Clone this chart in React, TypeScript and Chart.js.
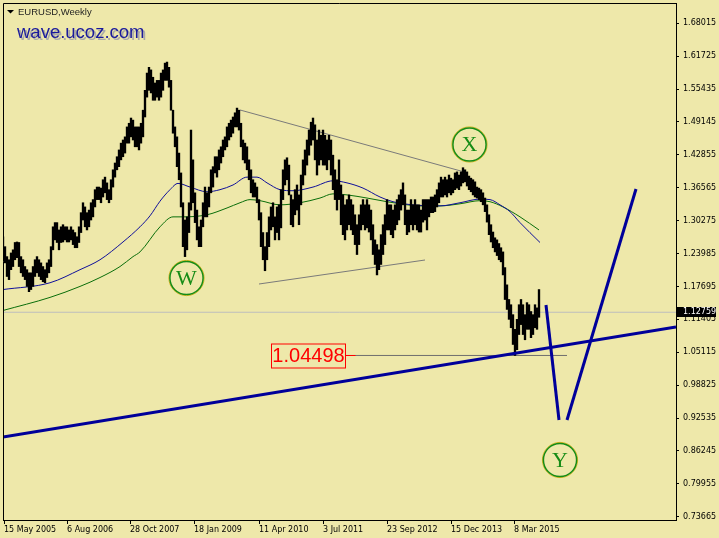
import React, { useEffect, useRef } from 'react';
import { Chart, registerables } from 'chart.js';

Chart.register(...registerables);

// Weekly EURUSD bars (every second bar). Bar index 0 = week of 15 May 2005.
const firstBarIndex = -1;
const barStep = 2;

const barHigh = [
  1.272, 1.253, 1.234, 1.228, 1.241, 1.247, 1.261, 1.262, 1.261, 1.234, 1.228, 1.215, 1.209, 1.203, 1.203, 1.215, 1.228, 1.234, 1.228, 1.222, 1.215, 1.209, 1.222, 1.228, 1.253,
  1.291, 1.299, 1.299, 1.285, 1.291, 1.295, 1.291, 1.291, 1.285, 1.291, 1.285, 1.280, 1.272, 1.291, 1.318, 1.337, 1.329, 1.318, 1.323, 1.337, 1.343, 1.362, 1.367, 1.367, 1.365,
  1.381, 1.386, 1.375, 1.362, 1.381, 1.400, 1.413, 1.425, 1.438, 1.451, 1.457, 1.463, 1.482, 1.489, 1.499, 1.495, 1.482, 1.482, 1.482, 1.489, 1.514, 1.552, 1.585, 1.596, 1.591,
  1.577, 1.566, 1.571, 1.571, 1.585, 1.591, 1.604, 1.606, 1.596, 1.571, 1.514, 1.482, 1.463, 1.432, 1.394, 1.337, 1.304, 1.310, 1.337, 1.476, 1.419, 1.356, 1.323, 1.291, 1.304,
  1.337, 1.367, 1.356, 1.367, 1.400, 1.406, 1.425, 1.425, 1.438, 1.444, 1.457, 1.463, 1.482, 1.489, 1.495, 1.501, 1.509, 1.518, 1.514, 1.489, 1.457, 1.451, 1.444, 1.419, 1.400,
  1.381, 1.375, 1.367, 1.343, 1.318, 1.280, 1.253, 1.280, 1.310, 1.329, 1.337, 1.310, 1.329, 1.333, 1.362, 1.400, 1.419, 1.423, 1.409, 1.352, 1.343, 1.362, 1.371, 1.352, 1.390,
  1.419, 1.438, 1.457, 1.476, 1.491, 1.499, 1.486, 1.457, 1.476, 1.466, 1.476, 1.466, 1.457, 1.466, 1.457, 1.428, 1.400, 1.381, 1.419, 1.371, 1.352, 1.333, 1.343, 1.352, 1.343,
  1.333, 1.314, 1.295, 1.314, 1.333, 1.343, 1.333, 1.343, 1.333, 1.323, 1.295, 1.266, 1.257, 1.247, 1.276, 1.295, 1.314, 1.343, 1.333, 1.333, 1.323, 1.333, 1.343, 1.352, 1.362,
  1.375, 1.352, 1.323, 1.323, 1.343, 1.333, 1.343, 1.333, 1.333, 1.323, 1.343, 1.343, 1.343, 1.343, 1.348, 1.348, 1.352, 1.362, 1.375, 1.386, 1.381, 1.386, 1.381, 1.390, 1.384,
  1.381, 1.394, 1.396, 1.390, 1.396, 1.404, 1.400, 1.396, 1.388, 1.384, 1.381, 1.377, 1.367, 1.365, 1.362, 1.356, 1.346, 1.333, 1.314, 1.295, 1.281, 1.270, 1.266, 1.259, 1.251,
  1.243, 1.213, 1.180, 1.152, 1.142, 1.123, 1.095, 1.114, 1.142, 1.152, 1.142, 1.123, 1.146, 1.142, 1.129, 1.123, 1.142, 1.136, 1.171,
];

const barLow = [
  1.253, 1.222, 1.196, 1.190, 1.209, 1.215, 1.228, 1.232, 1.215, 1.203, 1.196, 1.190, 1.177, 1.167, 1.171, 1.177, 1.196, 1.203, 1.196, 1.190, 1.186, 1.184, 1.194, 1.203, 1.215,
  1.247, 1.266, 1.261, 1.247, 1.261, 1.262, 1.266, 1.262, 1.262, 1.266, 1.257, 1.251, 1.251, 1.261, 1.280, 1.304, 1.291, 1.285, 1.291, 1.304, 1.310, 1.329, 1.343, 1.343, 1.337,
  1.348, 1.356, 1.343, 1.337, 1.343, 1.367, 1.386, 1.400, 1.406, 1.419, 1.425, 1.432, 1.451, 1.451, 1.463, 1.457, 1.444, 1.444, 1.438, 1.451, 1.463, 1.501, 1.539, 1.552, 1.547,
  1.533, 1.533, 1.539, 1.533, 1.539, 1.552, 1.571, 1.571, 1.558, 1.514, 1.470, 1.444, 1.406, 1.381, 1.329, 1.253, 1.234, 1.247, 1.280, 1.323, 1.337, 1.299, 1.266, 1.253, 1.253,
  1.291, 1.310, 1.310, 1.329, 1.356, 1.367, 1.394, 1.386, 1.400, 1.413, 1.425, 1.438, 1.444, 1.457, 1.463, 1.470, 1.482, 1.482, 1.476, 1.444, 1.419, 1.413, 1.400, 1.381, 1.356,
  1.348, 1.348, 1.337, 1.304, 1.253, 1.228, 1.207, 1.228, 1.253, 1.285, 1.291, 1.266, 1.280, 1.266, 1.289, 1.343, 1.371, 1.381, 1.352, 1.295, 1.291, 1.314, 1.323, 1.295, 1.333,
  1.371, 1.390, 1.409, 1.428, 1.447, 1.457, 1.419, 1.390, 1.409, 1.419, 1.409, 1.409, 1.400, 1.419, 1.390, 1.362, 1.343, 1.323, 1.343, 1.295, 1.276, 1.266, 1.285, 1.295, 1.285,
  1.276, 1.257, 1.238, 1.257, 1.285, 1.295, 1.285, 1.289, 1.281, 1.266, 1.238, 1.219, 1.199, 1.209, 1.219, 1.238, 1.257, 1.285, 1.285, 1.276, 1.270, 1.285, 1.295, 1.304, 1.323,
  1.333, 1.295, 1.276, 1.281, 1.295, 1.285, 1.295, 1.285, 1.281, 1.281, 1.300, 1.304, 1.285, 1.310, 1.318, 1.318, 1.320, 1.329, 1.337, 1.348, 1.348, 1.352, 1.348, 1.356, 1.352,
  1.356, 1.362, 1.365, 1.362, 1.369, 1.375, 1.377, 1.369, 1.362, 1.358, 1.352, 1.348, 1.346, 1.343, 1.339, 1.333, 1.320, 1.300, 1.276, 1.262, 1.251, 1.243, 1.236, 1.228, 1.224,
  1.199, 1.152, 1.133, 1.114, 1.098, 1.066, 1.04498, 1.056, 1.085, 1.104, 1.085, 1.075, 1.095, 1.095, 1.079, 1.085, 1.098, 1.095, 1.118,
];

// Moving averages (blue: faster, green: slower)
const blueMaBars = [-1, 46, 76, 96, 119, 136, 146, 156, 166, 174, 186, 203, 216, 229, 243, 253, 263, 276, 289, 309, 329, 343, 359, 376, 389, 409, 436, 456, 476, 486, 496, 506, 516, 536];
const blueMaValues = [1.171, 1.184, 1.209, 1.228, 1.262, 1.291, 1.312, 1.340, 1.362, 1.374, 1.367, 1.358, 1.362, 1.371, 1.386, 1.386, 1.375, 1.362, 1.360, 1.367, 1.379, 1.375, 1.365, 1.348, 1.339, 1.333, 1.331, 1.337, 1.344, 1.343, 1.333, 1.320, 1.299, 1.261];
const greenMaBars = [-1, 46, 76, 96, 116, 129, 136, 156, 169, 179, 203, 223, 236, 246, 256, 276, 296, 316, 329, 343, 363, 383, 396, 416, 436, 456, 476, 486, 499, 516, 535];
const greenMaValues = [1.131, 1.156, 1.177, 1.194, 1.215, 1.234, 1.243, 1.291, 1.310, 1.310, 1.314, 1.327, 1.337, 1.343, 1.341, 1.333, 1.337, 1.346, 1.354, 1.352, 1.346, 1.339, 1.335, 1.331, 1.331, 1.335, 1.341, 1.339, 1.329, 1.310, 1.285];

// Trend lines
const supportLineBars = [-1, 672];
const supportLineValues = [0.8891, 1.0994];
const upperWedgeBars = [236, 464];
const upperWedgeValues = [1.5144, 1.3939];
const lowerWedgeBars = [255, 421];
const lowerWedgeValues = [1.1816, 1.2275];
const projectionDownBars = [542, 555];
const projectionDownValues = [1.1415, 0.9216];
const projectionUpBars = [563, 632];
const projectionUpValues = [0.9216, 1.3633];

// Levels
const lastPrice = 1.12759;
const lastPriceBars = [-1, 672];
const lowLevel = 1.04498;
const lowLevelBars = [341, 563];

// Wave labels
const waveLabels = ['W', 'X', 'Y'];
const waveBars = [182.5, 465.5, 556];
const waveValues = [1.1931, 1.4484, 0.8451];

// Axes
const xTickBars = [0, 63, 126, 190, 255, 319, 383, 447, 510];
const xTickLabels = ['15 May 2005', '6 Aug 2006', '28 Oct 2007', '18 Jan 2009', '11 Apr 2010', '3 Jul 2011', '23 Sep 2012', '15 Dec 2013', '8 Mar 2015'];
const yTickLabels = ['1.68015', '1.61725', '1.55435', '1.49145', '1.42855', '1.36565', '1.30275', '1.23985', '1.17695', '1.11405', '1.05115', '0.98825', '0.92535', '0.86245', '0.79955', '0.73665'];
const xMin = -1;
const xMax = 672;
const yMin = 0.73034;
const yMax = 1.71897;

const BG = '#EEE8AA';
const TICK_FONT = { family: 'DejaVu Sans', size: 8 };

const pts = (xs: number[], ys: number[]) => xs.map((x, i) => ({ x, y: ys[i] }));

const segment = (xs: number[], ys: number[], color: string, width: number, order: number) => ({
  type: 'line' as const,
  data: pts(xs, ys),
  borderColor: color,
  borderWidth: width,
  pointRadius: 0,
  fill: false,
  order,
});

const decorPlugin = {
  id: 'decor',
  beforeDraw(chart: any) {
    const { ctx, width, height } = chart;
    ctx.save();
    ctx.fillStyle = BG;
    ctx.fillRect(0, 0, width, height);
    ctx.restore();
  },
  afterDatasetsDraw(chart: any) {
    const { ctx, scales } = chart;
    const xs = scales.x;
    const ys = scales.y;
    ctx.save();

    // 1.04498 label box tied to the low level line
    const ly = Math.round(ys.getPixelForValue(lowLevel)) + 0.5;
    const lx = Math.round(xs.getPixelForValue(lowLevelBars[0])) + 0.5;
    ctx.strokeStyle = '#ff0000';
    ctx.lineWidth = 1;
    ctx.beginPath();
    ctx.moveTo(lx, ly);
    ctx.lineTo(lx + 10, ly);
    ctx.stroke();
    const bw = 74;
    const bh = 24;
    ctx.strokeRect(lx - bw, Math.round(ly - bh / 2), bw, bh);
    ctx.fillStyle = '#ff0000';
    ctx.font = '20px "Liberation Sans", Arial, sans-serif';
    ctx.textAlign = 'center';
    ctx.textBaseline = 'middle';
    ctx.fillText(lowLevel.toFixed(5), lx - bw / 2, ly + 1);

    // Wave labels in circles
    waveLabels.forEach((label, i) => {
      const cx = xs.getPixelForValue(waveBars[i]);
      const cy = ys.getPixelForValue(waveValues[i]);
      ctx.beginPath();
      ctx.arc(cx, cy, 17.6, 0, Math.PI * 2);
      ctx.strokeStyle = '#d2b41e';
      ctx.lineWidth = 1;
      ctx.stroke();
      ctx.beginPath();
      ctx.arc(cx, cy, 16.6, 0, Math.PI * 2);
      ctx.strokeStyle = '#168c16';
      ctx.lineWidth = 1.5;
      ctx.stroke();
      ctx.fillStyle = '#168c16';
      ctx.font = '22px "Liberation Serif", "Times New Roman", serif';
      ctx.textAlign = 'center';
      ctx.textBaseline = 'middle';
      ctx.fillText(label, cx, cy + 1);
    });
    ctx.restore();
  },
  afterDraw(chart: any) {
    const { ctx, chartArea: a, scales } = chart;
    ctx.save();
    // frame
    ctx.strokeStyle = '#000';
    ctx.lineWidth = 1;
    ctx.beginPath();
    ctx.moveTo(a.left + 0.5, a.bottom);
    ctx.lineTo(a.left + 0.5, a.top + 0.5);
    ctx.lineTo(a.right, a.top + 0.5);
    ctx.stroke();

    // symbol caption
    ctx.fillStyle = '#000';
    ctx.beginPath();
    ctx.moveTo(7, 10);
    ctx.lineTo(14, 10);
    ctx.lineTo(10.5, 13.5);
    ctx.closePath();
    ctx.fill();
    ctx.fillStyle = '#1e1e1e';
    ctx.font = '9.5px "Liberation Sans", Arial, sans-serif';
    ctx.textAlign = 'left';
    ctx.textBaseline = 'alphabetic';
    ctx.fillText('EURUSD,Weekly', 18, 15);

    // site caption with shadow
    ctx.font = '18.5px "Liberation Sans", Arial, sans-serif';
    ctx.fillStyle = '#a9a9a9';
    ctx.fillText('wave.ucoz.com', 19, 40);
    ctx.fillStyle = '#1a1a9c';
    ctx.fillText('wave.ucoz.com', 17, 38);

    // last price marker on the price axis
    const py = Math.round(scales.y.getPixelForValue(lastPrice));
    ctx.fillStyle = '#000';
    ctx.fillRect(a.right + 1, py - 5, 39, 10);
    ctx.fillStyle = '#fff';
    ctx.font = '8px "DejaVu Sans", sans-serif';
    ctx.textBaseline = 'middle';
    ctx.fillText(lastPrice.toFixed(5), a.right + 7, py);
    ctx.restore();
  },
};

export default function App() {
  const canvasRef = useRef<HTMLCanvasElement | null>(null);

  useEffect(() => {
    const canvas = canvasRef.current;
    if (!canvas) return;

    const bars = barHigh.map((h, i) => ({ x: firstBarIndex + i * barStep, y: [barLow[i], h] }));

    const chart = new Chart(canvas, {
      type: 'bar',
      data: {
        datasets: [
          {
            type: 'bar',
            data: bars as any,
            backgroundColor: '#000',
            borderWidth: 0,
            barThickness: 1.7,
            grouped: false,
            order: 2,
          } as any,
          segment(supportLineBars, supportLineValues, '#00009a', 3, 1),
          segment(projectionDownBars, projectionDownValues, '#00009a', 3, 1),
          segment(projectionUpBars, projectionUpValues, '#00009a', 3, 1),
          { ...segment(blueMaBars, blueMaValues, '#10109a', 1, 3), cubicInterpolationMode: 'monotone' },
          { ...segment(greenMaBars, greenMaValues, '#0a6e0a', 1, 3), cubicInterpolationMode: 'monotone' },
          segment(upperWedgeBars, upperWedgeValues, '#7a7a7a', 1, 4),
          segment(lowerWedgeBars, lowerWedgeValues, '#7a7a7a', 1, 4),
          segment(lowLevelBars, [lowLevel, lowLevel], '#6e6e6e', 1, 4),
          segment(lastPriceBars, [lastPrice, lastPrice], '#bdbdbd', 1, 5),
        ] as any,
      },
      options: {
        animation: false,
        responsive: false,
        devicePixelRatio: 1,
        events: [],
        layout: { padding: { left: 3, top: 3, right: 0, bottom: 0 } },
        plugins: { legend: { display: false }, tooltip: { enabled: false } },
        scales: {
          x: {
            type: 'linear',
            min: xMin,
            max: xMax,
            offset: false,
            position: 'bottom',
            grid: { display: true, drawOnChartArea: false, drawTicks: true, tickLength: 4, color: '#000', offset: false },
            border: { display: true, color: '#000', width: 1 },
            ticks: {
              autoSkip: false,
              maxRotation: 0,
              minRotation: 0,
              align: 'start',
              padding: 1,
              color: '#000',
              font: TICK_FONT,
              callback: (v: any) => {
                const k = xTickBars.indexOf(Number(v));
                return k >= 0 ? xTickLabels[k] : '';
              },
            },
            afterBuildTicks: (s: any) => {
              s.ticks = xTickBars.map((v) => ({ value: v }));
            },
            afterFit: (s: any) => {
              s.height = 18;
              s.paddingLeft = 0;
              s.paddingRight = 0;
            },
          },
          y: {
            type: 'linear',
            position: 'right',
            min: yMin,
            max: yMax,
            grid: { display: true, drawOnChartArea: false, drawTicks: true, tickLength: 3, color: '#000' },
            border: { display: true, color: '#000', width: 1 },
            ticks: {
              autoSkip: false,
              padding: 4,
              color: '#000',
              font: TICK_FONT,
              callback: (v: any) => yTickLabels.find((t) => Math.abs(parseFloat(t) - Number(v)) < 1e-7) ?? '',
            },
            afterBuildTicks: (s: any) => {
              s.ticks = yTickLabels.map((t) => ({ value: parseFloat(t) }));
            },
            afterFit: (s: any) => {
              s.width = 43;
              s.paddingTop = 0;
              s.paddingBottom = 0;
            },
          },
        },
      } as any,
      plugins: [decorPlugin],
    });

    return () => chart.destroy();
  }, []);

  return (
    <div style={{ position: 'fixed', left: 0, top: 0, width: 719, height: 538, background: BG }}>
      <canvas ref={canvasRef} width={719} height={538} style={{ display: 'block' }} />
    </div>
  );
}
